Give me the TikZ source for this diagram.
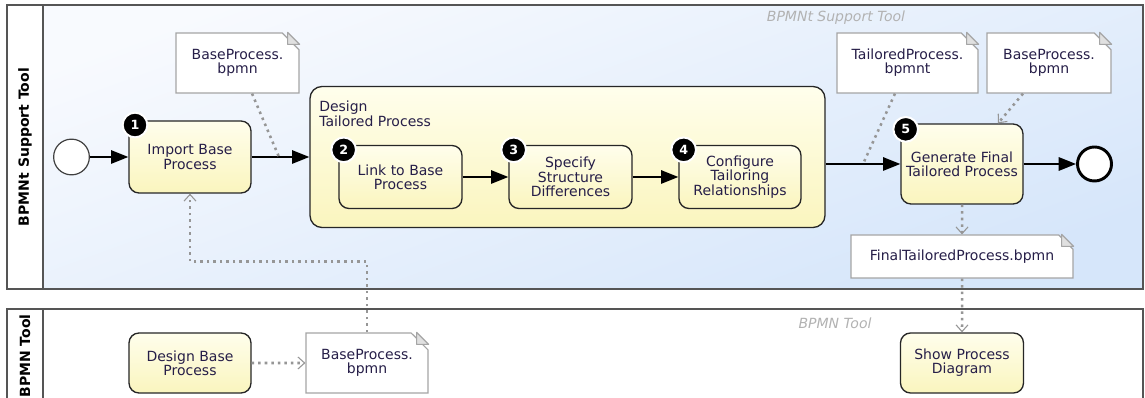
\documentclass[tikz,border=0pt]{standalone}
\usepackage{fontspec}
\setmainfont{DejaVu Sans}
\usetikzlibrary{arrows.meta,shapes.misc}

\definecolor{taskTop}{RGB}{255,254,236}
\definecolor{taskBot}{RGB}{250,245,190}
\definecolor{poolTop}{RGB}{248,250,254}
\definecolor{poolBot}{RGB}{214,230,250}
\definecolor{ink}{RGB}{38,30,72}
\definecolor{dotGray}{RGB}{150,150,150}
\definecolor{noteLine}{RGB}{165,165,165}
\definecolor{poolLine}{RGB}{85,85,85}

\tikzset{
    every node/.style={font=\fontsize{10.5}{10.7}\selectfont, text=ink},
    task/.style={rounded corners=7.5pt, draw=black!85, line width=1pt,
                 top color=taskTop, bottom color=taskBot, align=center,
                 minimum width=91.5pt, inner sep=2pt},
    note/.style={chamfered rectangle, chamfered rectangle corners=north east,
                 chamfered rectangle xsep=9pt, draw=noteLine, line width=0.9pt,
                 fill=white, align=center, minimum height=45pt, inner sep=2pt},
    badge/.style={circle, fill=black, draw=white, line width=1.5pt, text=white,
                  minimum size=18.5pt, inner sep=0pt, font=\fontsize{9.5}{9.5}\selectfont\bfseries},
    flow/.style={draw=black, line width=1.5pt, -{Triangle[length=13pt,width=10pt]}},
    assoc/.style={draw=dotGray, line width=1.9pt, dash pattern=on 1.9pt off 3pt},
    dataflow/.style={assoc, -{Straight Barb[length=5pt,width=9pt,line width=0.8pt]}},
    pool/.style={draw=poolLine, line width=1.1pt},
    watermark/.style={text=black!30, font=\fontsize{10.5}{10.5}\selectfont\itshape},
    poolname/.style={rotate=90, text=black, font=\fontsize{10.5}{10.5}\selectfont\bfseries},
}

\begin{document}
\begin{tikzpicture}[x=0.75pt, y=-0.75pt]
    \useasboundingbox (0,0) rectangle (1145,398);
    \clip (0,0) rectangle (1145,398);

    % pools and lanes
    \draw[pool, top color=poolTop, bottom color=poolBot, shading angle=20] (7,5) rectangle (1143,289);
    \draw[pool, fill=white] (7,5) rectangle (43,289);
    \draw[pool, fill=white] (7,309) rectangle (1143,410);
    \draw[pool] (43,309) -- (43,410);
    \node[poolname] (upName) at (25,147) {BPMNt Support Tool};
    \node[poolname] (lowName) at (25,356) {BPMN Tool};
    \node[watermark] (upMark) at (836,18) {BPMNt Support Tool};
    \node[watermark] (lowMark) at (835,323) {BPMN Tool};

    % events
    \node[circle, draw=black!75, line width=0.9pt, fill=white, minimum size=26.8pt, inner sep=0pt] (start) at (71.5,157) {};
    \node[circle, draw=black, line width=2.2pt, fill=white, minimum size=25.5pt, inner sep=0pt] (end) at (1094.5,164) {};

    % activities
    \node[task, minimum height=54pt] (t1) at (190,157) {Import Base\\Process};
    \node[task, minimum width=386.25pt, minimum height=105.75pt, rounded corners=9pt] (sub) at (567.5,157) {};
    \node[anchor=north west, align=left, inner sep=0pt] (subName) at (319,101) {Design\\Tailored Process};
    \node[task, minimum width=92.25pt, minimum height=47.25pt] (t2) at (400.5,177) {Link to Base\\Process};
    \node[task, minimum width=92.25pt, minimum height=47.25pt] (t3) at (570.5,177) {Specify\\Structure\\Differences};
    \node[task, minimum height=47.25pt] (t4) at (740,177) {Configure\\Tailoring\\Relationships};
    \node[task, minimum height=60pt] (t5) at (962,164) {Generate Final\\Tailored Process};
    \node[task, minimum height=45pt] (dbp) at (190,363) {Design Base\\Process};
    \node[task, minimum width=92.25pt, minimum height=45pt] (show) at (962,363) {Show Process\\Diagram};

    % badges
    \node[badge] (b1) at ([xshift=5pt,yshift=-3.5pt]t1.north west) {1};
    \node[badge] (b2) at ([xshift=4pt,yshift=-3.75pt]t2.north west) {2};
    \node[badge] (b3) at ([xshift=4pt,yshift=-3.75pt]t3.north west) {3};
    \node[badge] (b4) at ([xshift=4pt,yshift=-3.75pt]t4.north west) {4};
    \node[badge] (b5) at ([xshift=4pt,yshift=-4.5pt]t5.north west) {5};

    % data objects
    \node[note, minimum width=92.25pt] (bpA) at (237.5,63) {BaseProcess.\\bpmn};
    \node[note, minimum width=104.25pt] (tp) at (907.5,63) {TailoredProcess.\\bpmnt};
    \node[note, minimum width=93pt] (bpB) at (1049,63) {BaseProcess.\\bpmn};
    \node[note, minimum width=166.5pt, minimum height=32.25pt] (ftp) at (962,256.5) {FinalTailoredProcess.bpmn};
    \node[note, minimum width=91.5pt] (bpC) at (367,363) {BaseProcess.\\bpmn};
    \foreach \n in {bpA,tp,bpB,ftp,bpC} {
        \coordinate (\n-ne) at (\n.north -| \n.east);
        \draw[draw=noteLine, line width=0.9pt, fill=black!12, line join=round]
            ([xshift=-9pt]\n-ne) -- ([xshift=-9pt,yshift=-9pt]\n-ne) -- ([yshift=-9pt]\n-ne) -- cycle;
    }

    % sequence flows
    \coordinate (subOut) at (t5 -| sub.east);
    \path (start) edge[flow] (t1);
    \path (t1) edge[flow] (sub);
    \path (t2) edge[flow] (t3);
    \path (t3) edge[flow] (t4);
    \path (subOut) edge[flow] (t5);
    \path (t5) edge[flow] (end);

    % associations
    \coordinate (a1) at (279,157);
    \coordinate (a2) at (863,164);
    \draw[assoc] ([xshift=10.9pt]bpA.south) -- (a1);
    \draw[assoc] ([xshift=-9.4pt]tp.south) -- (a2);
    \draw[dataflow] ([xshift=-19.5pt]bpB.south) -- ([xshift=27pt]t5.north);
    \draw[dataflow] (t5) -- (ftp);
    \draw[dataflow] (ftp) -- (show);
    \draw[dataflow] (dbp) -- (bpC);
    \draw[dataflow] (bpC.north) -- ++(0,-71) -| (t1.south);
\end{tikzpicture}
\end{document}
